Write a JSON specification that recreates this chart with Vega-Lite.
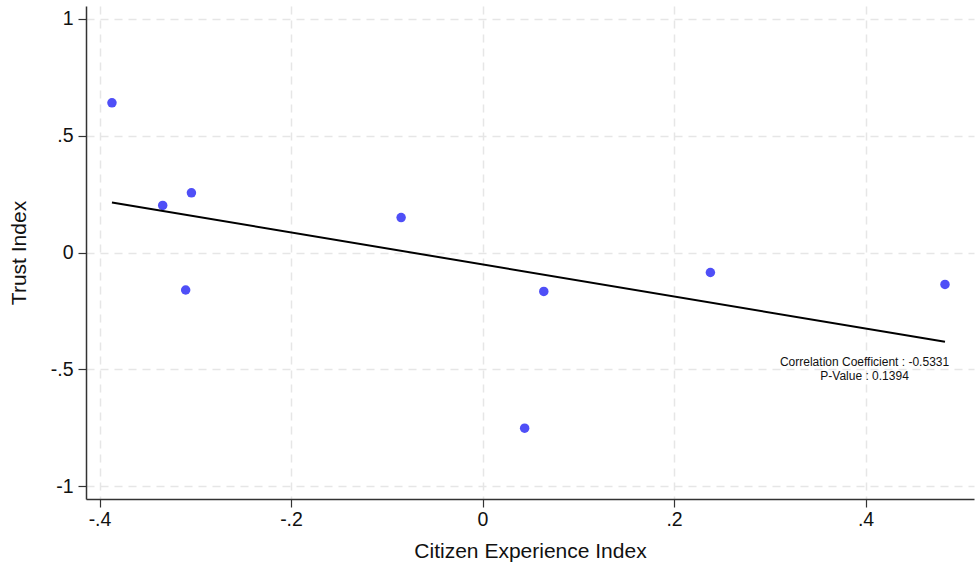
{
  "$schema": "https://vega.github.io/schema/vega-lite/v6.json",
  "autosize": {"type": "fit", "contains": "padding"},
  "width": 976,
  "height": 567,
  "padding": {"left": 8, "top": 6, "right": 2, "bottom": 6},
  "background": "white",
  "config": {
    "view": {"stroke": null},
    "font": "Liberation Sans",
    "axis": {
      "domainColor": "#333333",
      "domainWidth": 1.5,
      "tickColor": "#333333",
      "tickWidth": 1.2,
      "tickSize": 8,
      "labelFont": "Liberation Sans",
      "labelFontSize": 19.5,
      "labelColor": "#111111",
      "titleFont": "Liberation Sans",
      "titleFontSize": 21,
      "titleFontWeight": "normal",
      "titleColor": "#111111",
      "gridColor": "#e6e6e6",
      "gridWidth": 1.5,
      "gridDash": [8, 6]
    }
  },
  "datasets": {
    "pts": [
      {"cx": -0.387, "trust": 0.641},
      {"cx": -0.334, "trust": 0.202},
      {"cx": -0.304, "trust": 0.256},
      {"cx": -0.310, "trust": -0.160},
      {"cx": -0.085, "trust": 0.150},
      {"cx": 0.044, "trust": -0.751},
      {"cx": 0.064, "trust": -0.166},
      {"cx": 0.238, "trust": -0.085},
      {"cx": 0.483, "trust": -0.136}
    ],
    "notes": [
      {"cx": 0.399, "trust": -0.469, "txt": "Correlation Coefficient : -0.5331"},
      {"cx": 0.399, "trust": -0.527, "txt": "P-Value : 0.1394"}
    ]
  },
  "layer": [
    {
      "data": {"name": "pts"},
      "mark": {"type": "point", "filled": true, "size": 90, "color": "#4f4ff7", "opacity": 1},
      "encoding": {
        "x": {
          "field": "cx", "type": "quantitative",
          "scale": {"domain": [-0.4141, 0.5133], "nice": false, "zero": false},
          "axis": {
            "title": "Citizen Experience Index",
            "values": [-0.4, -0.2, 0, 0.2, 0.4],
            "labelExpr": "replace(replace(format(datum.value, '.1~f'), '\u2212', '-'), '0.', '.')",
            "labelPadding": 3,
            "titlePadding": 10,
            "minExtent": 31, "maxExtent": 31,
            "grid": true
          }
        },
        "y": {
          "field": "trust", "type": "quantitative",
          "scale": {"domain": [-1.054, 1.055], "nice": false, "zero": false},
          "axis": {
            "title": "Trust Index",
            "values": [-1, -0.5, 0, 0.5, 1],
            "labelExpr": "replace(replace(format(datum.value, '.1~f'), '\u2212', '-'), '0.', '.')",
            "labelPadding": 5,
            "titlePadding": 19,
            "minExtent": 38, "maxExtent": 38,
            "grid": true
          }
        }
      }
    },
    {
      "data": {"name": "pts"},
      "transform": [{"regression": "trust", "on": "cx"}],
      "mark": {"type": "line", "color": "black", "strokeWidth": 2},
      "encoding": {
        "x": {"field": "cx", "type": "quantitative"},
        "y": {"field": "trust", "type": "quantitative"}
      }
    },
    {
      "data": {"name": "notes"},
      "mark": {"type": "text", "fontSize": 12, "color": "#111111", "align": "center", "baseline": "middle", "font": "Liberation Sans"},
      "encoding": {
        "x": {"field": "cx", "type": "quantitative"},
        "y": {"field": "trust", "type": "quantitative"},
        "text": {"field": "txt"}
      }
    }
  ]
}
